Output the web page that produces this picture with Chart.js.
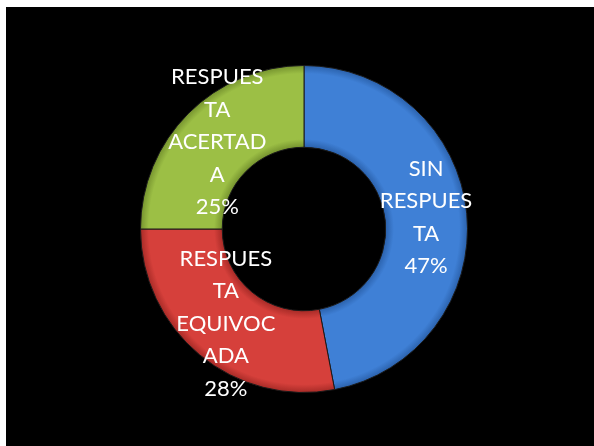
<!DOCTYPE html>
<html>
<head>
<meta charset="utf-8">
<script src="https://cdn.jsdelivr.net/npm/chart.js@4/dist/chart.umd.min.js"></script>
<style>
  body { margin: 0; background: #fff; }
  #chart-container { position: absolute; left: 6px; top: 7px; width: 588px; height: 439px; background: #000; }
</style>
</head>
<body>
<div id="chart-container"><canvas id="chart"></canvas></div>
<script>
const categories = ['SIN RESPUESTA', 'RESPUESTA EQUIVOCADA', 'RESPUESTA ACERTADA'];
const values = [47, 28, 25];
const colors = ['#3f80d6', '#d6403b', '#9cbf45'];
const edgeColors = ['#2b62ad', '#a82b27', '#76942f'];

// partir texto como Excel: por palabras y luego por letras
function wrapText(ctx, text, maxWidth) {
    const lines = [];
    text.split(' ').forEach(function(word) {
        let cur = lines.length ? lines[lines.length - 1] : null;
        if (cur !== null && ctx.measureText(cur + ' ' + word).width <= maxWidth) {
            lines[lines.length - 1] = cur + ' ' + word;
            return;
        }
        let piece = '';
        for (const ch of word) {
            if (piece && ctx.measureText(piece + ch).width > maxWidth) {
                lines.push(piece);
                piece = ch;
            } else {
                piece += ch;
            }
        }
        lines.push(piece);
    });
    return lines;
}

const labelPlugin = {
    id: 'sliceLabels',
    afterDatasetsDraw(chart) {
        const ctx = chart.ctx;
        const meta = chart.getDatasetMeta(0);
        ctx.save();
        ctx.fillStyle = '#fff';
        ctx.font = '22px Lato';
        ctx.textAlign = 'center';
        ctx.textBaseline = 'middle';
        meta.data.forEach(function(arc, i) {
            const pos = arc.tooltipPosition();
            const lines = wrapText(ctx, categories[i], 100);
            lines.push(values[i] + '%');
            const lh = 32.5;
            const y0 = pos.y - (lines.length - 1) * lh / 2;
            lines.forEach(function(line, j) {
                ctx.fillText(line, pos.x, y0 + j * lh);
            });
        });
        ctx.restore();
    }
};

// degradado radial para el efecto de bisel
function sliceFill(context) {
    const i = context.dataIndex;
    const chart = context.chart;
    const area = chart.chartArea;
    const ctrl = chart.getDatasetMeta(0).controller;
    if (!area || !ctrl || !ctrl.outerRadius) return colors[i];
    const cx = (area.left + area.right) / 2;
    const cy = (area.top + area.bottom) / 2;
    const g = chart.ctx.createRadialGradient(cx, cy, ctrl.innerRadius, cx, cy, ctrl.outerRadius);
    g.addColorStop(0, edgeColors[i]);
    g.addColorStop(0.1, colors[i]);
    g.addColorStop(0.9, colors[i]);
    g.addColorStop(1, edgeColors[i]);
    return g;
}

new Chart(document.getElementById('chart'), {
    type: 'doughnut',
    data: {
        labels: categories,
        datasets: [{
            data: values,
            backgroundColor: sliceFill,
            borderColor: '#1a1a1a',
            borderWidth: 1
        }]
    },
    options: {
        responsive: true,
        maintainAspectRatio: false,
        animation: false,
        events: [],
        cutout: '50%',
        layout: { padding: { left: 134, right: 126, top: 58, bottom: 53 } },
        plugins: {
            legend: { display: false },
            tooltip: { enabled: false }
        }
    },
    plugins: [labelPlugin]
});
</script>
</body>
</html>
